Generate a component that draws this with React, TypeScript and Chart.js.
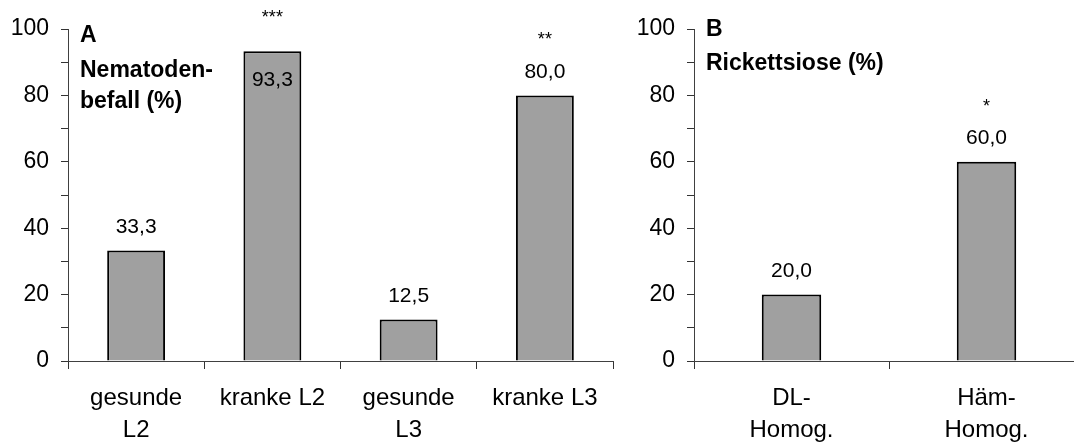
import React, { useEffect, useRef } from 'react';
import { Chart, registerables } from 'chart.js';

Chart.register(...registerables);

// ---- Data ----
const categoriesA: (string | string[])[] = [['gesunde', 'L2'], 'kranke L2', ['gesunde', 'L3'], 'kranke L3'];
const valuesA = [33.3, 93.3, 12.5, 80.0];
const starsA = ['', '***', '', '**'];
const titleA = ['A', 'Nematoden-', 'befall (%)'];

const categoriesB: (string | string[])[] = [['DL-', 'Homog.'], ['Häm-', 'Homog.']];
const valuesB = [20.0, 60.0];
const starsB = ['', '*'];
const titleB = ['B', 'Rickettsiose (%)'];

const yTickLabels = [0, 20, 40, 60, 80, 100];

const FONT = "'Liberation Sans', Arial, Helvetica, sans-serif";

const annotPlugin = {
  id: 'annot',
  afterDatasetsDraw(chart: any, _args: any, opts: any) {
    const { ctx, chartArea } = chart;
    const meta = chart.getDatasetMeta(0);
    const data = chart.data.datasets[0].data as number[];
    ctx.save();
    ctx.fillStyle = '#000';
    ctx.textAlign = 'center';
    ctx.textBaseline = 'alphabetic';
    meta.data.forEach((bar: any, i: number) => {
      const v = data[i];
      const top = bar.y;
      const text = v.toFixed(1).replace('.', ',');
      let center = top - 25;
      let starBase = center - 25;
      if (center - 10 < chartArea.top) {
        center = top + 27;
        starBase = top - 28;
      }
      ctx.font = `21px ${FONT}`;
      ctx.fillText(text, bar.x, center + 7.5);
      const s = opts.stars[i];
      if (s) {
        ctx.font = `18px ${FONT}`;
        ctx.fillText(s, bar.x, starBase);
      }
    });
    ctx.font = `bold 23px ${FONT}`;
    ctx.textAlign = 'left';
    (opts.title as string[]).forEach((t, i) => {
      ctx.fillText(t, chartArea.left + 12, opts.titleBaselines[i]);
    });
    ctx.restore();
  },
};

interface PanelProps {
  left: number;
  width: number;
  labels: (string | string[])[];
  values: number[];
  stars: string[];
  title: string[];
  titleBaselines: number[];
  yWidth: number;
  padRight: number;
  barPct: number;
}

function Panel(props: PanelProps) {
  const ref = useRef<HTMLCanvasElement>(null);
  useEffect(() => {
    if (!ref.current) return;
    const chart = new Chart(ref.current, {
      type: 'bar',
      data: {
        labels: props.labels,
        datasets: [
          {
            data: props.values,
            backgroundColor: '#a0a0a0',
            borderColor: '#000',
            borderWidth: 2,
            barPercentage: props.barPct,
            categoryPercentage: 1,
          },
        ],
      },
      options: {
        responsive: false,
        animation: false,
        layout: { padding: { top: 29, right: props.padRight, left: 0, bottom: 0 } },
        plugins: {
          legend: { display: false },
          tooltip: { enabled: false },
          annot: { stars: props.stars, title: props.title, titleBaselines: props.titleBaselines },
        } as any,
        scales: {
          x: {
            offset: true,
            grid: { offset: true, drawOnChartArea: false, drawTicks: true, tickLength: 8, color: '#333' },
            border: { color: '#404040', width: 1 },
            ticks: {
              color: '#000',
              font: { family: FONT, size: 24, lineHeight: 1.35 },
              padding: 13,
              maxRotation: 0,
              autoSkip: false,
            },
            afterFit: (s: any) => {
              s.height = 82;
            },
          },
          y: {
            min: 0,
            max: 100,
            ticks: {
              stepSize: 10,
              autoSkip: false,
              callback: (v: any) => (yTickLabels.includes(Number(v)) ? String(v) : ''),
              color: '#000',
              font: { family: FONT, size: 23 },
              padding: 12,
            },
            grid: { drawOnChartArea: false, drawTicks: true, tickLength: 7, color: '#333' },
            border: { color: '#404040', width: 1 },
            afterFit: (s: any) => {
              s.width = props.yWidth;
            },
          },
        },
      } as any,
      plugins: [annotPlugin],
    });
    return () => chart.destroy();
  }, []);
  return (
    <canvas
      ref={ref}
      width={props.width}
      height={443}
      style={{ position: 'absolute', left: props.left, top: 0, width: props.width, height: 443 }}
    />
  );
}

export default function App() {
  return (
    <div
      style={{
        position: 'fixed',
        left: 0,
        top: 0,
        width: 1074,
        height: 443,
        overflow: 'hidden',
        background: '#fff',
      }}
    >
      <Panel
        left={0}
        width={640}
        labels={categoriesA}
        values={valuesA}
        stars={starsA}
        title={titleA}
        titleBaselines={[42, 77, 108]}
        yWidth={68}
        padRight={27}
        barPct={0.425}
      />
      <Panel
        left={600}
        width={500}
        labels={categoriesB}
        values={valuesB}
        stars={starsB}
        title={titleB}
        titleBaselines={[36, 70]}
        yWidth={94}
        padRight={16}
        barPct={0.305}
      />
    </div>
  );
}
